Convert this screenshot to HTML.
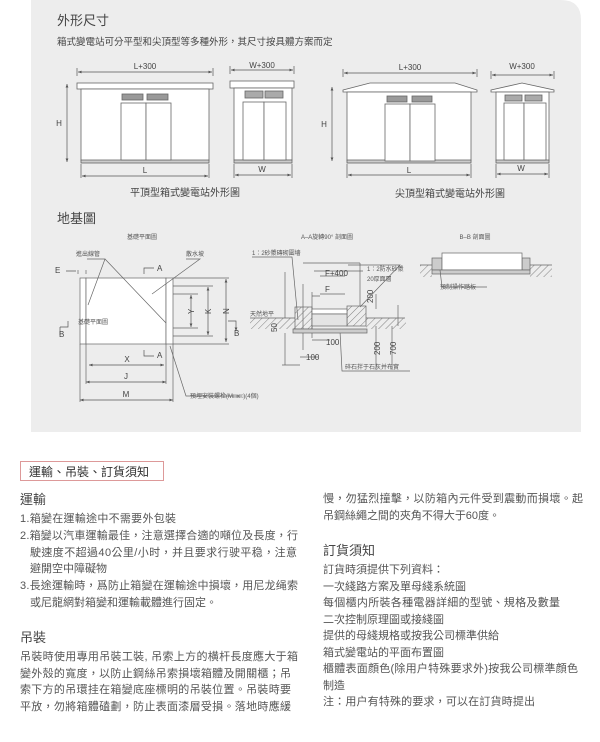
<!DOCTYPE html>
<html><head><meta charset="utf-8"><style>
html,body{margin:0;padding:0;background:#fff;}
svg{display:block;font-family:"Liberation Sans","Noto Sans CJK TC",sans-serif;}
.t{fill:#555;font-size:11px;}
.s{fill:#555;font-size:6px;}
.d{fill:#444;font-size:8px;}
</style></head><body>
<svg width="600" height="742" viewBox="0 0 600 742" xmlns="http://www.w3.org/2000/svg">
<defs>
<marker id="a" markerWidth="6" markerHeight="6" refX="5" refY="3" orient="auto-start-reverse"><path d="M0,1 L5,3 L0,5" fill="#555"/></marker>
<pattern id="h" width="5" height="5" patternUnits="userSpaceOnUse" patternTransform="rotate(45)"><line x1="0" y1="0" x2="0" y2="5" stroke="#666" stroke-width="0.8"/></pattern>
</defs>
<path d="M31,0 H561 Q581,0 581,20 V432 H31 Z" fill="#ededed"/>
<text x="57" y="25" fill="#444" font-size="13">外形尺寸</text>
<text x="57" y="45" fill="#444" font-size="9.5">箱式變電站可分平型和尖頂型等多種外形，其尺寸按具體方案而定</text>

<g stroke="#666" stroke-width="0.8" fill="#fff">
<rect x="77" y="83" width="136" height="6"/>
<rect x="81" y="89" width="128" height="72"/>
<rect x="81" y="160" width="128" height="3" fill="#ccc"/>
<rect x="122" y="94" width="21" height="6" fill="#999"/><rect x="147" y="94" width="21" height="6" fill="#999"/>
<rect x="121" y="103" width="25" height="57"/><rect x="146" y="103" width="25" height="57"/>
<rect x="230" y="81" width="64" height="7"/>
<rect x="234" y="88" width="58" height="72"/>
<rect x="234" y="160" width="58" height="3" fill="#ccc"/>
<rect x="245" y="91" width="18" height="7" fill="#aaa"/><rect x="265" y="91" width="18" height="7" fill="#aaa"/>
<rect x="243" y="102" width="21" height="58"/><rect x="264" y="102" width="22" height="58"/>
<path d="M343,90 L370,83 L455,83 L477,90 L477,92 L343,92 Z"/>
<rect x="347" y="92" width="124" height="69"/>
<rect x="347" y="160" width="124" height="3" fill="#ccc"/>
<rect x="387" y="96" width="20" height="6" fill="#999"/><rect x="412" y="96" width="20" height="6" fill="#999"/>
<rect x="385" y="104" width="25" height="57"/><rect x="410" y="104" width="25" height="57"/>
<path d="M491,90 L522,83 L554,90 L554,92 L491,92 Z"/>
<rect x="496" y="92" width="53" height="69"/>
<rect x="496" y="160" width="53" height="3" fill="#ccc"/>
<rect x="505" y="95" width="17" height="6" fill="#aaa"/><rect x="525" y="95" width="17" height="6" fill="#aaa"/>
<rect x="504" y="103" width="20" height="57"/><rect x="524" y="103" width="22" height="57"/>
</g>
<g stroke="#555" stroke-width="0.7" fill="none">
<line x1="78" y1="72" x2="212" y2="72" marker-start="url(#a)" marker-end="url(#a)"/>
<line x1="231" y1="70" x2="293" y2="70" marker-start="url(#a)" marker-end="url(#a)"/>
<line x1="344" y1="73" x2="476" y2="73" marker-start="url(#a)" marker-end="url(#a)"/>
<line x1="492" y1="75" x2="553" y2="75" marker-start="url(#a)" marker-end="url(#a)"/>
<line x1="67" y1="84" x2="67" y2="162" marker-start="url(#a)" marker-end="url(#a)"/>
<line x1="332" y1="87" x2="332" y2="161" marker-start="url(#a)" marker-end="url(#a)"/>
<line x1="82" y1="176" x2="208" y2="176" marker-start="url(#a)" marker-end="url(#a)"/>
<line x1="235" y1="175" x2="291" y2="175" marker-start="url(#a)" marker-end="url(#a)"/>
<line x1="348" y1="175" x2="470" y2="175" marker-start="url(#a)" marker-end="url(#a)"/>
<line x1="497" y1="174" x2="548" y2="174" marker-start="url(#a)" marker-end="url(#a)"/>
<path d="M77,68v8 M213,68v8 M230,66v8 M294,66v8 M343,69v8 M477,69v8 M491,71v8 M554,71v8 M81,164v14 M209,164v14 M234,164v14 M292,164v14 M347,164v14 M471,164v14 M496,164v14 M549,164v14"/>
</g>
<g class="d" text-anchor="middle">
<text x="145" y="69">L+300</text><text x="262" y="68">W+300</text>
<text x="410" y="70">L+300</text><text x="522" y="69">W+300</text>
<text x="59" y="126">H</text><text x="324" y="127">H</text>
<text x="145" y="173">L</text><text x="262" y="172">W</text>
<text x="409" y="173">L</text><text x="521" y="171">W</text>
</g>
<text x="185" y="196" fill="#444" font-size="10" text-anchor="middle">平頂型箱式變電站外形圖</text>
<text x="450" y="197" fill="#444" font-size="10" text-anchor="middle">尖頂型箱式變電站外形圖</text>

<text x="57" y="223" fill="#444" font-size="13">地基圖</text>
<text x="142" y="239" class="s" text-anchor="middle">基礎平面圖</text>
<text x="327" y="239" class="s" text-anchor="middle">A–A旋轉90° 剖面圖</text>
<text x="475" y="239" class="s" text-anchor="middle">B–B 剖面圖</text>
<g stroke="#666" stroke-width="0.7" fill="none">
<rect x="80" y="278" width="6" height="66" fill="#fff"/>
<rect x="86" y="278" width="80" height="66" fill="#fff"/>
<rect x="166" y="278" width="7" height="66" fill="#fff"/>
<path d="M80,344v58 M173,344v58 M86,344v40 M166,344v40 M173,278h56 M173,344h56 M173,286h40 M173,336h40 M173,294h25 M173,328h25 M78,274v-4 M86,270v4"/>
<line x1="89" y1="365" x2="164" y2="365" stroke="#555" marker-start="url(#a)" marker-end="url(#a)"/>
<line x1="86" y1="382" x2="166" y2="382" stroke="#555" marker-start="url(#a)" marker-end="url(#a)"/>
<line x1="80" y1="400" x2="173" y2="400" stroke="#555" marker-start="url(#a)" marker-end="url(#a)"/>
<line x1="226" y1="279" x2="226" y2="342" stroke="#555" marker-start="url(#a)" marker-end="url(#a)"/>
<line x1="208" y1="287" x2="208" y2="335" stroke="#555" marker-start="url(#a)" marker-end="url(#a)"/>
<line x1="191" y1="295" x2="191" y2="327" stroke="#555" marker-start="url(#a)" marker-end="url(#a)"/>
<path d="M66,271h10 M144,274v-6h10 M144,350v6h10 M60,327h8v-6 M60,327v8 M228,321h8v10" stroke="#555" marker-end="url(#a)"/>
<path d="M87,259 L105,259 L88,305 M105,259 L166,323 M186,259 L200,259 L152,294 M170,346 L186,396 L242,396"/>
<path d="M252,257 L292,257 L298,320 M348,265 L400,265 L360,307 M340,331 L342,371 L410,371"/>
<path d="M250,318 H295 M366,318 H405 M312,309 V296 H320 M303,284 V350 M312,292 V338 M314,271 H363 M320,276 H345 M320,294 H345 M303,263 H360 M360,263 V306 M285,272 V318 M285,333 V365 M282,365 H300 M312,340 H330 M300,357 H318 M376,309 V294 M376,326 V370 M392,326 V370 M398,326 V305"/>
</g>
<g stroke="#666" stroke-width="0.7">
<rect x="295" y="307" width="17" height="22" fill="url(#h)"/>
<rect x="347" y="306" width="19" height="20" fill="url(#h)"/>
<rect x="312" y="309" width="35" height="5" fill="#fff"/>
<rect x="312" y="314" width="35" height="12" fill="#e4e4e4"/>
<rect x="293" y="329" width="74" height="4" fill="#ccc"/>
<rect x="250" y="318" width="45" height="11" fill="url(#h)" stroke="none"/>
<rect x="366" y="318" width="40" height="11" fill="url(#h)" stroke="none"/>
<rect x="432" y="258" width="10" height="12" fill="#ccc"/>
<rect x="522" y="258" width="8" height="12" fill="#ccc"/>
<rect x="442" y="253" width="80" height="17" fill="#fff"/>
<rect x="432" y="270" width="98" height="4" fill="#ccc"/>
<rect x="420" y="265" width="12" height="12" fill="url(#h)" stroke="none"/>
<rect x="530" y="265" width="22" height="12" fill="url(#h)" stroke="none"/>
<path d="M420,265H432 M530,265H552 M440,270 L442,287 L487,287" fill="none"/>
</g>
<g class="s">
<text x="76" y="256">進出線管</text><text x="186" y="256">散水坡</text>
<text x="78" y="324">基礎平面圖</text>
<text x="190" y="398">預埋安裝螺栓(M□x□)(4個)</text>
<text x="252" y="255">1：2砂漿磚砌圍墻</text>
<text x="367" y="271">1：2防水砂漿</text><text x="367" y="281">20厚面層</text>
<text x="250" y="316">天然地平</text>
<text x="345" y="369">碎石拌于石灰并布實</text>
<text x="440" y="289">預制操作踏板</text>
</g>
<g class="d" font-size="7">
<text x="55" y="273">E</text><text x="157" y="271">A</text><text x="157" y="358">A</text>
<text x="59" y="337">B</text><text x="234" y="336">B</text>
<text x="127" y="362" text-anchor="middle">X</text><text x="126" y="379" text-anchor="middle">J</text><text x="126" y="397" text-anchor="middle">M</text>
<text x="325" y="276">F+400</text><text x="325" y="292">F</text>
<text x="326" y="345">100</text><text x="306" y="360">100</text>
<text transform="translate(373,303) rotate(-90)">200</text>
<text transform="translate(277,332) rotate(-90)">50</text>
<text transform="translate(380,355) rotate(-90)">200</text>
<text transform="translate(396,355) rotate(-90)">700</text>
<text transform="translate(194,314) rotate(-90)">Y</text>
<text transform="translate(211,314) rotate(-90)">K</text>
<text transform="translate(229,314) rotate(-90)">N</text>
</g>

<rect x="20.5" y="461.5" width="143" height="19" fill="none" stroke="#d99" stroke-width="1"/>
<text x="29" y="476" fill="#333" font-size="12">運輸、吊裝、訂貨須知</text>
<text x="20" y="504" fill="#444" font-size="13">運輸</text>
<g class="t">
<text x="20" y="522" textLength="156">1.箱變在運輸途中不需要外包裝</text>
<text x="20" y="539" textLength="278">2.箱變以汽車運輸最佳，注意選擇合適的噸位及長度，行</text>
<text x="30" y="556" textLength="267">駛速度不超過40公里/小时，并且要求行驶平稳，注意</text>
<text x="30" y="572">避開空中障礙物</text>
<text x="20" y="589" textLength="278">3.長途運輸時，爲防止箱變在運輸途中損壞，用尼龙绳索</text>
<text x="30" y="606" textLength="187">或尼龍網對箱變和運輸載體進行固定。</text>
<text x="20" y="660" textLength="278">吊裝時使用專用吊裝工裝, 吊索上方的横杆長度應大于箱</text>
<text x="20" y="677" textLength="271">變外殼的寬度，以防止鋼絲吊索損壞箱體及開關櫃；吊</text>
<text x="20" y="693" textLength="271">索下方的吊環挂在箱變底座標明的吊裝位置。吊裝時要</text>
<text x="20" y="710" textLength="271">平放，勿將箱體磕劃，防止表面漆層受損。落地時應緩</text>
<text x="323" y="502" textLength="260">慢，勿猛烈撞擊，以防箱內元件受到震動而損壞。起</text>
<text x="323" y="519" textLength="177">吊鋼絲繩之間的夾角不得大于60度。</text>
<text x="323" y="573">訂貨時須提供下列資料：</text>
<text x="323" y="590">一次綫路方案及單母綫系統圖</text>
<text x="323" y="606" textLength="237">每個櫃内所裝各種電器詳細的型號、規格及數量</text>
<text x="323" y="623">二次控制原理圖或接綫圖</text>
<text x="323" y="639">提供的母綫規格或按我公司標準供給</text>
<text x="323" y="656">箱式變電站的平面布置圖</text>
<text x="323" y="672" textLength="255">櫃體表面顔色(除用户特殊要求外)按我公司標準顔色</text>
<text x="323" y="689">制造</text>
<text x="323" y="705" textLength="212">注：用户有特殊的要求，可以在訂貨時提出</text>
</g>
<text x="20" y="642" fill="#444" font-size="13">吊裝</text>
<text x="323" y="555" fill="#444" font-size="13">訂貨須知</text>
</svg>
</body></html>
